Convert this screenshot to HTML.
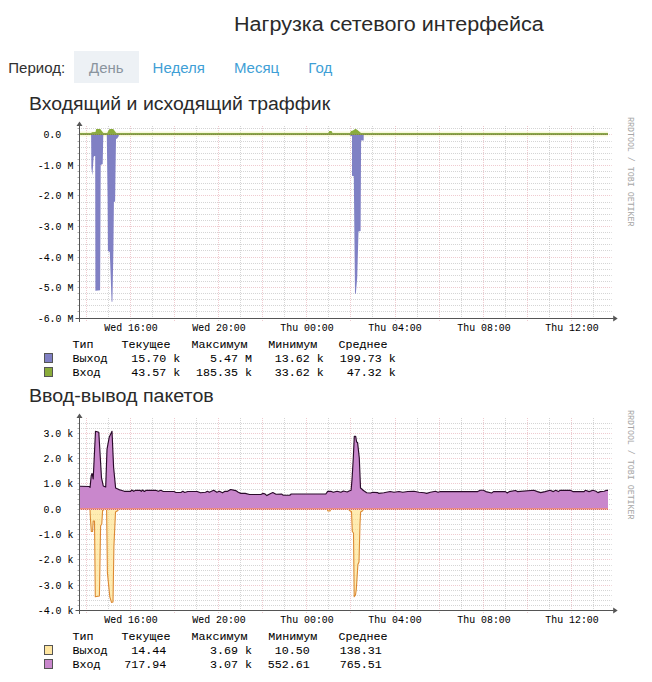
<!DOCTYPE html>
<html><head><meta charset="utf-8"><style>
html,body{margin:0;padding:0;background:#fff;width:652px;height:682px;overflow:hidden}
body{position:relative}
.t{position:absolute;white-space:pre;font-family:"Liberation Sans",sans-serif;color:#2a2a2a;transform-origin:0 0;line-height:1}
.m{position:absolute;white-space:pre;font-family:"Liberation Mono",monospace;color:#000;line-height:1;-webkit-text-stroke:0.05px #000}
.r{text-align:right}
svg{position:absolute;left:0;top:0}
.btn{position:absolute;left:74px;top:51px;width:65px;height:32px;background:#edf1f5}
.lnk{color:#3f9fd6}
.sq{position:absolute;width:7px;height:8px;border:1px solid #555}
</style></head><body>
<div class="btn"></div>
<div class="t" style="left:234px;top:13.9px;font-size:20px;transform:scaleX(1.0770);">Нагрузка сетевого интерфейса</div>
<div class="t" style="left:8.3px;top:59.52px;font-size:15px;color:#303030;">Период:</div>
<div class="t" style="left:89px;top:59.52px;font-size:15px;color:#8a949e;">День</div>
<div class="t" style="left:152.6px;top:59.52px;font-size:15px;color:#3f9fd6;">Неделя</div>
<div class="t" style="left:233.9px;top:59.52px;font-size:15px;color:#3f9fd6;">Месяц</div>
<div class="t" style="left:308.3px;top:59.52px;font-size:15px;color:#3f9fd6;">Год</div>
<div class="t" style="left:29px;top:94.61px;font-size:18px;transform:scaleX(1.0800);">Входящий и исходящий траффик</div>
<div class="t" style="left:29px;top:387.21px;font-size:18px;transform:scaleX(1.0910);">Ввод-вывод пакетов</div>
<svg width="652" height="682" viewBox="0 0 652 682" shape-rendering="auto">
<path d="M81 311.5H611.7M81 305.5H611.7M81 299.5H611.7M81 293.5H611.7M81 281.5H611.7M81 275.5H611.7M81 269.5H611.7M81 263.5H611.7M81 250.5H611.7M81 244.5H611.7M81 238.5H611.7M81 232.5H611.7M81 220.5H611.7M81 214.5H611.7M81 208.5H611.7M81 202.5H611.7M81 189.5H611.7M81 183.5H611.7M81 177.5H611.7M81 171.5H611.7M81 159.5H611.7M81 153.5H611.7M81 147.5H611.7M81 141.5H611.7M81 128.5H611.7M108.5 126V318.5M152.5 126V318.5M196.5 126V318.5M240.5 126V318.5M284.5 126V318.5M328.5 126V318.5M372.5 126V318.5M417.5 126V318.5M461.5 126V318.5M505.5 126V318.5M549.5 126V318.5M593.5 126V318.5" stroke="rgba(150,150,150,0.4)" stroke-width="1" stroke-dasharray="1 1" fill="none"/>
<path d="M81 287.5H611.7M81 257.5H611.7M81 226.5H611.7M81 195.5H611.7M81 165.5H611.7M81 134.5H611.7M86.5 126V321.5M130.5 126V321.5M174.5 126V321.5M218.5 126V321.5M262.5 126V321.5M306.5 126V321.5M350.5 126V321.5M395.5 126V321.5M439.5 126V321.5M483.5 126V321.5M527.5 126V321.5M571.5 126V321.5" stroke="rgba(210,110,125,0.36)" stroke-width="1" stroke-dasharray="1 1" fill="none"/>
<path d="M77.5 311.5H79.5M77.5 305.5H79.5M77.5 299.5H79.5M77.5 293.5H79.5M77.5 281.5H79.5M77.5 275.5H79.5M77.5 269.5H79.5M77.5 263.5H79.5M77.5 250.5H79.5M77.5 244.5H79.5M77.5 238.5H79.5M77.5 232.5H79.5M77.5 220.5H79.5M77.5 214.5H79.5M77.5 208.5H79.5M77.5 202.5H79.5M77.5 189.5H79.5M77.5 183.5H79.5M77.5 177.5H79.5M77.5 171.5H79.5M77.5 159.5H79.5M77.5 153.5H79.5M77.5 147.5H79.5M77.5 141.5H79.5M77.5 128.5H79.5M77.5 287.5H79.5M77.5 257.5H79.5M77.5 226.5H79.5M77.5 195.5H79.5M77.5 165.5H79.5M77.5 134.5H79.5" stroke="rgba(60,60,60,0.4)" stroke-width="1" fill="none"/>
<path d="M80 134H608" stroke="rgba(240,240,170,0.45)" stroke-width="5"/>
<path d="M91.1 134.5 L91.4 168 L92.4 175.5 L93.6 157 L94.4 156 L95.2 156 L95.4 290.8 L100.1 290.2 L100.7 165 L102.7 164 L103.3 134.5 Z" fill="#8080c4"/>
<path d="M106.8 134.5 L107.6 200 L107.9 251 L109.8 252 L111.6 301.8 L112.4 301.8 L113.4 250 L113.9 202 L115.1 201.5 L115.6 165 L116 139 L117.2 138.5 L118.8 136 L118.8 134.5 Z" fill="#8080c4"/>
<path d="M349.5 134.5 L350 135.5 L352 136.2 L352 175.8 L353.8 176.2 L355 293.8 L355.8 293.8 L357.2 278 L358.5 231.4 L360.6 231 L361.1 140.4 L363.7 140.4 L363.7 134.5 Z" fill="#8080c4"/>
<path d="M91.4 134 L91.6 132.3 L95.5 132 L96.2 129.1 L100.3 129.1 L103.4 133 L103.4 134 Z" fill="#8aac3a"/>
<path d="M106.8 134 L108 131.5 L109.5 129.1 L113.2 129.1 L116.3 133 L116.3 134 Z" fill="#8aac3a"/>
<path d="M327.8 134 L329.3 131 L331.5 131 L333 134 Z" fill="#8aac3a"/>
<path d="M349.5 134 L351 131 L353 130.5 L355.5 128.8 L357.5 130 L361 133 L361 134 Z" fill="#8aac3a"/>
<path d="M80 134H608" stroke="#8aa84a" stroke-width="2"/>
<path d="M81 134.5H608" stroke="rgba(120,60,60,0.35)" stroke-width="1" stroke-dasharray="1 1"/>
<path d="M79.5 125V322" stroke="#555555" stroke-width="1"/>
<path d="M75.5 318.5H613.7" stroke="#555555" stroke-width="1"/>
<path d="M76.5 126L82.5 126L79.5 121.5Z" fill="#555"/>
<path d="M613.2 315.5L613.2 321.5L617.7 318.5Z" fill="#555"/>
<path d="M81 605.5H611.7M81 600.5H611.7M81 595.5H611.7M81 590.5H611.7M81 580.5H611.7M81 575.5H611.7M81 570.5H611.7M81 565.5H611.7M81 554.5H611.7M81 549.5H611.7M81 544.5H611.7M81 539.5H611.7M81 529.5H611.7M81 524.5H611.7M81 519.5H611.7M81 514.5H611.7M81 504.5H611.7M81 499.5H611.7M81 494.5H611.7M81 489.5H611.7M81 478.5H611.7M81 473.5H611.7M81 468.5H611.7M81 463.5H611.7M81 453.5H611.7M81 448.5H611.7M81 443.5H611.7M81 438.5H611.7M81 428.5H611.7M81 423.5H611.7M108.5 418V610.5M152.5 418V610.5M196.5 418V610.5M240.5 418V610.5M284.5 418V610.5M328.5 418V610.5M372.5 418V610.5M417.5 418V610.5M461.5 418V610.5M505.5 418V610.5M549.5 418V610.5M593.5 418V610.5" stroke="rgba(150,150,150,0.4)" stroke-width="1" stroke-dasharray="1 1" fill="none"/>
<path d="M81 585.5H611.7M81 559.5H611.7M81 534.5H611.7M81 509.5H611.7M81 483.5H611.7M81 458.5H611.7M81 433.5H611.7M86.5 418V613.5M130.5 418V613.5M174.5 418V613.5M218.5 418V613.5M262.5 418V613.5M306.5 418V613.5M350.5 418V613.5M395.5 418V613.5M439.5 418V613.5M483.5 418V613.5M527.5 418V613.5M571.5 418V613.5" stroke="rgba(210,110,125,0.36)" stroke-width="1" stroke-dasharray="1 1" fill="none"/>
<path d="M77.5 605.5H79.5M77.5 600.5H79.5M77.5 595.5H79.5M77.5 590.5H79.5M77.5 580.5H79.5M77.5 575.5H79.5M77.5 570.5H79.5M77.5 565.5H79.5M77.5 554.5H79.5M77.5 549.5H79.5M77.5 544.5H79.5M77.5 539.5H79.5M77.5 529.5H79.5M77.5 524.5H79.5M77.5 519.5H79.5M77.5 514.5H79.5M77.5 504.5H79.5M77.5 499.5H79.5M77.5 494.5H79.5M77.5 489.5H79.5M77.5 478.5H79.5M77.5 473.5H79.5M77.5 468.5H79.5M77.5 463.5H79.5M77.5 453.5H79.5M77.5 448.5H79.5M77.5 443.5H79.5M77.5 438.5H79.5M77.5 428.5H79.5M77.5 423.5H79.5M77.5 585.5H79.5M77.5 559.5H79.5M77.5 534.5H79.5M77.5 509.5H79.5M77.5 483.5H79.5M77.5 458.5H79.5M77.5 433.5H79.5" stroke="rgba(60,60,60,0.4)" stroke-width="1" fill="none"/>
<path d="M80 509 L80 486.3 L89.2 486.5 L90.1 487.3 L91.2 475.8 L92.1 473.5 L93.2 479 L95.5 431.3 L98.8 432.3 L101.5 477.8 L103.3 486 L105.7 487 L107 449.4 L109.3 436.9 L112 431.3 L113.6 467.2 L115.6 488 L118.9 489.6 L121.1 490.3 L124.3 491.3 L130.6 491.3 L131.8 490 L133.7 491.3 L135.6 490.3 L140 490.3 L141.3 491.3 L142.5 490 L144.4 491.5 L146.3 490.3 L155.7 490.3 L158.3 491.3 L160.8 490.3 L163.3 491.5 L174 491.5 L175.9 492.5 L180.9 492.5 L182.8 491.3 L184.7 492.5 L187.8 491.5 L197.2 491.5 L200.5 492.8 L205.5 492.3 L207.4 491.3 L209.3 492.3 L213.7 490.3 L216.9 492.3 L219.4 491.3 L222.5 492.8 L225 491.3 L227.6 491.3 L230.7 489.5 L235.7 490.6 L238.3 492.3 L240.8 493.4 L245.2 493.4 L249.6 494.5 L260.9 494.5 L262.8 493.4 L264.7 493.8 L266.9 495.6 L269.7 494 L272.8 492.6 L276 494.2 L281.8 494.1 L283 495.2 L290 495.2 L291.2 494 L325.8 494 L327.7 491.3 L330.8 491.3 L333.3 492.3 L337.1 491.3 L340.9 492.3 L343.4 491 L347.2 492 L349.1 491 L351.1 490.2 L352.1 478.4 L353.3 458 L354.3 436.3 L355.7 436.3 L356.6 442 L357.6 442.6 L359.3 458 L360.5 488 L361.8 489 L363.4 490.6 L366.7 492.7 L370.6 493 L372.6 492.3 L377.6 492.6 L378.9 493.4 L383.9 492.8 L390.2 491.5 L394 492.3 L399 491.5 L402.8 492.3 L407.8 491.5 L414 491.3 L419 492.3 L424.2 492.8 L426.7 493.4 L430.4 492.3 L435.5 491.3 L438 492.3 L440.5 491.5 L477.7 491.6 L480.3 490.2 L483.4 490.2 L485.9 491.6 L491.6 493 L493.5 491.6 L505.4 491.6 L507.3 493 L509.2 491.6 L515.5 490.5 L517.4 491.6 L533.8 490.3 L537.5 491.6 L540.7 492.6 L545.1 491.6 L550.1 490.3 L553.3 491.6 L555.8 490.3 L558.3 491.6 L560.2 490.3 L570.3 490.3 L572.8 491.6 L584.1 491.6 L585.3 490.3 L589.1 491.6 L592.9 490.3 L596 491.3 L597.9 492.6 L600.4 491.6 L604.2 491.3 L606.7 490.3 L608 490.3 L608 509 Z" fill="#c987cc"/>
<path d="M80 486.3 L89.2 486.5 L90.1 487.3 L91.2 475.8 L92.1 473.5 L93.2 479 L95.5 431.3 L98.8 432.3 L101.5 477.8 L103.3 486 L105.7 487 L107 449.4 L109.3 436.9 L112 431.3 L113.6 467.2 L115.6 488 L118.9 489.6 L121.1 490.3 L124.3 491.3 L130.6 491.3 L131.8 490 L133.7 491.3 L135.6 490.3 L140 490.3 L141.3 491.3 L142.5 490 L144.4 491.5 L146.3 490.3 L155.7 490.3 L158.3 491.3 L160.8 490.3 L163.3 491.5 L174 491.5 L175.9 492.5 L180.9 492.5 L182.8 491.3 L184.7 492.5 L187.8 491.5 L197.2 491.5 L200.5 492.8 L205.5 492.3 L207.4 491.3 L209.3 492.3 L213.7 490.3 L216.9 492.3 L219.4 491.3 L222.5 492.8 L225 491.3 L227.6 491.3 L230.7 489.5 L235.7 490.6 L238.3 492.3 L240.8 493.4 L245.2 493.4 L249.6 494.5 L260.9 494.5 L262.8 493.4 L264.7 493.8 L266.9 495.6 L269.7 494 L272.8 492.6 L276 494.2 L281.8 494.1 L283 495.2 L290 495.2 L291.2 494 L325.8 494 L327.7 491.3 L330.8 491.3 L333.3 492.3 L337.1 491.3 L340.9 492.3 L343.4 491 L347.2 492 L349.1 491 L351.1 490.2 L352.1 478.4 L353.3 458 L354.3 436.3 L355.7 436.3 L356.6 442 L357.6 442.6 L359.3 458 L360.5 488 L361.8 489 L363.4 490.6 L366.7 492.7 L370.6 493 L372.6 492.3 L377.6 492.6 L378.9 493.4 L383.9 492.8 L390.2 491.5 L394 492.3 L399 491.5 L402.8 492.3 L407.8 491.5 L414 491.3 L419 492.3 L424.2 492.8 L426.7 493.4 L430.4 492.3 L435.5 491.3 L438 492.3 L440.5 491.5 L477.7 491.6 L480.3 490.2 L483.4 490.2 L485.9 491.6 L491.6 493 L493.5 491.6 L505.4 491.6 L507.3 493 L509.2 491.6 L515.5 490.5 L517.4 491.6 L533.8 490.3 L537.5 491.6 L540.7 492.6 L545.1 491.6 L550.1 490.3 L553.3 491.6 L555.8 490.3 L558.3 491.6 L560.2 490.3 L570.3 490.3 L572.8 491.6 L584.1 491.6 L585.3 490.3 L589.1 491.6 L592.9 490.3 L596 491.3 L597.9 492.6 L600.4 491.6 L604.2 491.3 L606.7 490.3 L608 490.3" fill="none" stroke="#2a0a2a" stroke-width="1.15" stroke-linejoin="round"/>
<path d="M90 509.5 L90.5 520 L91.3 531.5 L92.6 531.5 L93.2 521 L94.5 521 L95.3 596.8 L99.4 596 L100.6 525.8 L101.8 524 L102.6 510.5 L104.2 509.5 Z" fill="rgba(255,224,125,0.6)" stroke="#dc8a34" stroke-width="1.1" stroke-linejoin="round"/>
<path d="M106.6 509.5 L107.4 572.6 L109.8 596.8 L111.5 602.4 L113 602 L113.9 546.8 L115.5 512 L117.9 510.5 L118.5 509.5 Z" fill="rgba(255,224,125,0.6)" stroke="#dc8a34" stroke-width="1.1" stroke-linejoin="round"/>
<path d="M327.3 509.5 L328 511 L330 511 L330.5 509.5 Z" fill="rgba(255,224,125,0.6)" stroke="#dc8a34" stroke-width="1.1" stroke-linejoin="round"/>
<path d="M348.7 509.5 L350.6 511.3 L351.5 511.5 L352.3 531.5 L353.5 533 L354.2 596.8 L355.5 595 L356.3 589.5 L357.9 564.5 L359 562 L360 524 L360.6 512 L362.3 511 L363.5 509.5 Z" fill="rgba(255,224,125,0.6)" stroke="#dc8a34" stroke-width="1.1" stroke-linejoin="round"/>
<path d="M80 508.5H608" stroke="#ea8a84" stroke-width="1"/>
<path d="M80 509.5H608" stroke="#f4c4bc" stroke-width="1"/>
<path d="M81 509.5H608" stroke="#d46a6a" stroke-width="1" stroke-dasharray="1 1"/>
<path d="M79.5 417V614" stroke="#555555" stroke-width="1"/>
<path d="M75.5 610.5H613.7" stroke="#555555" stroke-width="1"/>
<path d="M76.5 418L82.5 418L79.5 413.5Z" fill="#555"/>
<path d="M613.2 607.5L613.2 613.5L617.7 610.5Z" fill="#555"/>
</svg>
<div class="m" style="right:578.6px;top:129.69px;font-size:10.4px;transform:scaleX(0.955);transform-origin:100% 0;">0.0  </div>
<div class="m" style="right:578.6px;top:160.69px;font-size:10.4px;transform:scaleX(0.955);transform-origin:100% 0;">-1.0 M</div>
<div class="m" style="right:578.6px;top:190.69px;font-size:10.4px;transform:scaleX(0.955);transform-origin:100% 0;">-2.0 M</div>
<div class="m" style="right:578.6px;top:221.69px;font-size:10.4px;transform:scaleX(0.955);transform-origin:100% 0;">-3.0 M</div>
<div class="m" style="right:578.6px;top:252.69px;font-size:10.4px;transform:scaleX(0.955);transform-origin:100% 0;">-4.0 M</div>
<div class="m" style="right:578.6px;top:282.69px;font-size:10.4px;transform:scaleX(0.955);transform-origin:100% 0;">-5.0 M</div>
<div class="m" style="right:578.6px;top:313.69px;font-size:10.4px;transform:scaleX(0.955);transform-origin:100% 0;">-6.0 M</div>
<div class="m" style="right:578.6px;top:428.69px;font-size:10.4px;transform:scaleX(0.955);transform-origin:100% 0;">3.0 k</div>
<div class="m" style="right:578.6px;top:453.69px;font-size:10.4px;transform:scaleX(0.955);transform-origin:100% 0;">2.0 k</div>
<div class="m" style="right:578.6px;top:478.69px;font-size:10.4px;transform:scaleX(0.955);transform-origin:100% 0;">1.0 k</div>
<div class="m" style="right:578.6px;top:504.69px;font-size:10.4px;transform:scaleX(0.955);transform-origin:100% 0;">0.0  </div>
<div class="m" style="right:578.6px;top:529.69px;font-size:10.4px;transform:scaleX(0.955);transform-origin:100% 0;">-1.0 k</div>
<div class="m" style="right:578.6px;top:554.69px;font-size:10.4px;transform:scaleX(0.955);transform-origin:100% 0;">-2.0 k</div>
<div class="m" style="right:578.6px;top:580.69px;font-size:10.4px;transform:scaleX(0.955);transform-origin:100% 0;">-3.0 k</div>
<div class="m" style="right:578.6px;top:605.69px;font-size:10.4px;transform:scaleX(0.955);transform-origin:100% 0;">-4.0 k</div>
<div class="m" style="left:90.7px;top:323.39px;font-size:10.4px;width:80px;text-align:center;transform:scaleX(0.95);transform-origin:50% 0">Wed 16:00</div>
<div class="m" style="left:178.9px;top:323.39px;font-size:10.4px;width:80px;text-align:center;transform:scaleX(0.95);transform-origin:50% 0">Wed 20:00</div>
<div class="m" style="left:267.1px;top:323.39px;font-size:10.4px;width:80px;text-align:center;transform:scaleX(0.95);transform-origin:50% 0">Thu 00:00</div>
<div class="m" style="left:355.3px;top:323.39px;font-size:10.4px;width:80px;text-align:center;transform:scaleX(0.95);transform-origin:50% 0">Thu 04:00</div>
<div class="m" style="left:443.5px;top:323.39px;font-size:10.4px;width:80px;text-align:center;transform:scaleX(0.95);transform-origin:50% 0">Thu 08:00</div>
<div class="m" style="left:531.7px;top:323.39px;font-size:10.4px;width:80px;text-align:center;transform:scaleX(0.95);transform-origin:50% 0">Thu 12:00</div>
<div class="m" style="left:90.7px;top:615.39px;font-size:10.4px;width:80px;text-align:center;transform:scaleX(0.95);transform-origin:50% 0">Wed 16:00</div>
<div class="m" style="left:178.9px;top:615.39px;font-size:10.4px;width:80px;text-align:center;transform:scaleX(0.95);transform-origin:50% 0">Wed 20:00</div>
<div class="m" style="left:267.1px;top:615.39px;font-size:10.4px;width:80px;text-align:center;transform:scaleX(0.95);transform-origin:50% 0">Thu 00:00</div>
<div class="m" style="left:355.3px;top:615.39px;font-size:10.4px;width:80px;text-align:center;transform:scaleX(0.95);transform-origin:50% 0">Thu 04:00</div>
<div class="m" style="left:443.5px;top:615.39px;font-size:10.4px;width:80px;text-align:center;transform:scaleX(0.95);transform-origin:50% 0">Thu 08:00</div>
<div class="m" style="left:531.7px;top:615.39px;font-size:10.4px;width:80px;text-align:center;transform:scaleX(0.95);transform-origin:50% 0">Thu 12:00</div>
<div class="m" style="left:72.6px;top:339.77px;font-size:11.67px;">Тип</div>
<div class="m" style="left:121.6px;top:339.77px;font-size:11.67px;">Текущее</div>
<div class="m" style="left:191.6px;top:339.77px;font-size:11.67px;">Максимум</div>
<div class="m" style="left:268.2px;top:339.77px;font-size:11.67px;">Минимум</div>
<div class="m" style="left:338.6px;top:339.77px;font-size:11.67px;">Среднее</div>
<div class="m" style="left:72.6px;top:353.87px;font-size:11.67px;">Выход</div>
<div class="m" style="right:471.8px;top:353.87px;font-size:11.67px;">15.70 k</div>
<div class="m" style="right:400.1px;top:353.87px;font-size:11.67px;">5.47 M</div>
<div class="m" style="right:328.3px;top:353.87px;font-size:11.67px;">13.62 k</div>
<div class="m" style="right:256.3px;top:353.87px;font-size:11.67px;">199.73 k</div>
<div class="sq" style="left:44px;top:352.7px;background:#8080c4"></div>
<div class="m" style="left:72.6px;top:367.97px;font-size:11.67px;">Вход</div>
<div class="m" style="right:471.8px;top:367.97px;font-size:11.67px;">43.57 k</div>
<div class="m" style="right:400.1px;top:367.97px;font-size:11.67px;">185.35 k</div>
<div class="m" style="right:328.3px;top:367.97px;font-size:11.67px;">33.62 k</div>
<div class="m" style="right:256.3px;top:367.97px;font-size:11.67px;">47.32 k</div>
<div class="sq" style="left:44px;top:366.8px;background:#8aac3a"></div>
<div class="m" style="left:72.6px;top:632.07px;font-size:11.67px;">Тип</div>
<div class="m" style="left:121.6px;top:632.07px;font-size:11.67px;">Текущее</div>
<div class="m" style="left:191.6px;top:632.07px;font-size:11.67px;">Максимум</div>
<div class="m" style="left:268.2px;top:632.07px;font-size:11.67px;">Минимум</div>
<div class="m" style="left:338.6px;top:632.07px;font-size:11.67px;">Среднее</div>
<div class="m" style="left:72.6px;top:646.17px;font-size:11.67px;">Выход</div>
<div class="m" style="right:471.8px;top:646.17px;font-size:11.67px;">14.44  </div>
<div class="m" style="right:400.1px;top:646.17px;font-size:11.67px;">3.69 k</div>
<div class="m" style="right:328.3px;top:646.17px;font-size:11.67px;">10.50  </div>
<div class="m" style="right:256.3px;top:646.17px;font-size:11.67px;">138.31  </div>
<div class="sq" style="left:44px;top:645px;background:#ffe6a0"></div>
<div class="m" style="left:72.6px;top:660.27px;font-size:11.67px;">Вход</div>
<div class="m" style="right:471.8px;top:660.27px;font-size:11.67px;">717.94  </div>
<div class="m" style="right:400.1px;top:660.27px;font-size:11.67px;">3.07 k</div>
<div class="m" style="right:328.3px;top:660.27px;font-size:11.67px;">552.61  </div>
<div class="m" style="right:256.3px;top:660.27px;font-size:11.67px;">765.51  </div>
<div class="sq" style="left:44px;top:659.1px;background:#c987cc"></div>
<div class="m" style="left:634px;top:117.3px;font-size:8.3px;color:#a6a6a6;-webkit-text-stroke:0;transform-origin:0 0;transform:rotate(90deg)">RRDTOOL / TOBI OETIKER</div>
<div class="m" style="left:634px;top:410.2px;font-size:8.3px;color:#a6a6a6;-webkit-text-stroke:0;transform-origin:0 0;transform:rotate(90deg)">RRDTOOL / TOBI OETIKER</div>
</body></html>
